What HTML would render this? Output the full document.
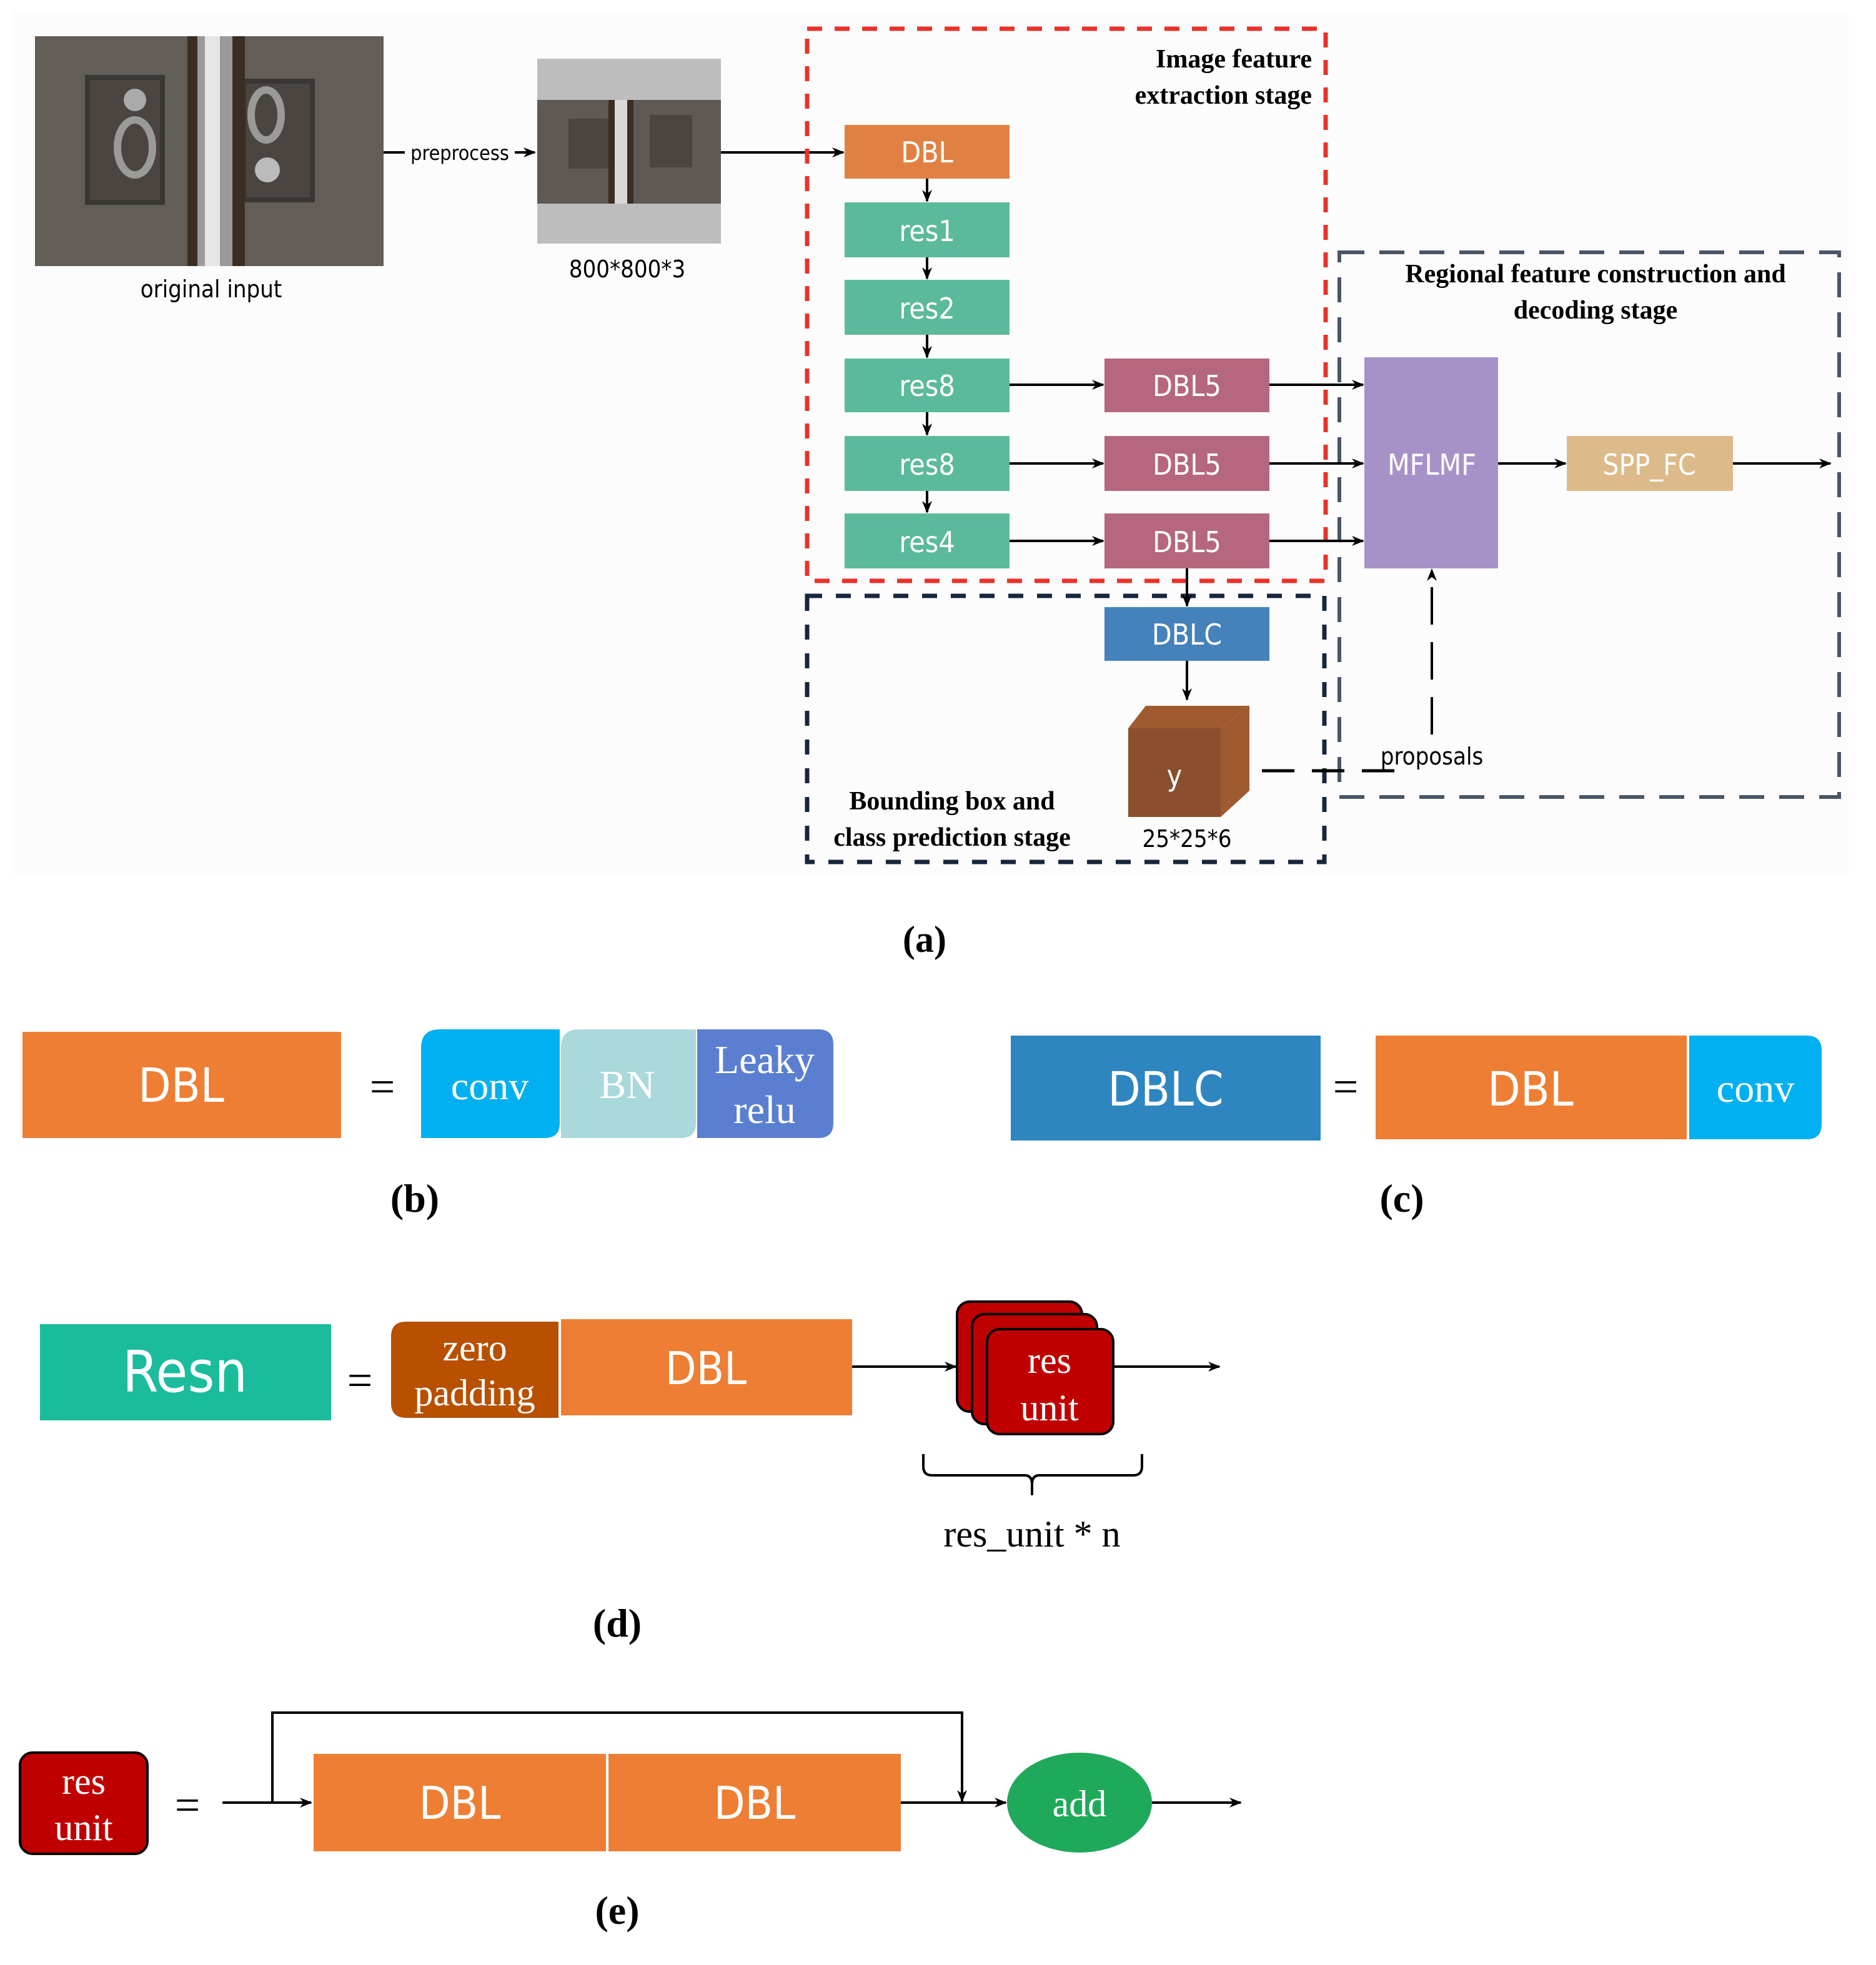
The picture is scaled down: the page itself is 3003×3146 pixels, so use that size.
<!DOCTYPE html>
<html><head><meta charset="utf-8">
<style>
html,body{margin:0;padding:0;background:#fff;}
svg{display:block;}
.s{font-family:"DejaVu Sans Condensed","Liberation Sans",sans-serif;}
.r{font-family:"Liberation Serif",serif;}
</style></head><body>
<svg width="3003" height="3146" viewBox="0 0 1501.5 1573" xmlns="http://www.w3.org/2000/svg">
<defs>
<marker id="a" markerWidth="10" markerHeight="10" refX="9" refY="5" orient="auto" markerUnits="userSpaceOnUse"><path d="M0,1 L10,5 L0,9 L3,5 z" fill="#000"/></marker>
</defs>
<rect width="1501.5" height="1573" fill="#fff"/>
<rect x="10" y="10" width="1470" height="690" fill="#fcfcfc"/>

<!-- original photo -->
<rect x="28" y="29" width="279" height="184" fill="#5a5550"/>
<rect x="28" y="29" width="279" height="184" fill="#6b665f" opacity="0.5"/>
<rect x="70" y="62" width="60" height="100" fill="#4a4540" stroke="#3a3633" stroke-width="4"/>
<rect x="195" y="65" width="55" height="95" fill="#4a4540" stroke="#3a3633" stroke-width="4"/>
<ellipse cx="108" cy="118" rx="14" ry="22" fill="none" stroke="#9a9a96" stroke-width="6"/>
<ellipse cx="213" cy="92" rx="12" ry="20" fill="none" stroke="#9a9a96" stroke-width="6"/>
<circle cx="108" cy="80" r="9" fill="#aaa"/><circle cx="214" cy="136" r="10" fill="#bbb"/>
<rect x="150" y="29" width="46" height="184" fill="#3b2d22"/>
<rect x="158" y="29" width="28" height="184" fill="#9a9a9a"/>
<rect x="164" y="29" width="12" height="184" fill="#e6e6e6"/>
<text x="169" y="238" class="s" font-size="19" text-anchor="middle">original input</text>

<line x1="307" y1="122" x2="428" y2="122" stroke="#000" stroke-width="2" marker-end="url(#a)"/>
<rect x="324" y="112" width="88" height="20" fill="#fcfcfc"/>
<text x="368" y="128" class="s" font-size="16" text-anchor="middle">preprocess</text>

<!-- preprocessed -->
<rect x="430" y="47" width="147" height="148" fill="#bdbdbd"/>
<rect x="430" y="80" width="147" height="83" fill="#5e5954"/>
<rect x="455" y="95" width="40" height="40" fill="#4a4540"/>
<rect x="520" y="92" width="34" height="42" fill="#4a4540"/>
<rect x="487" y="80" width="20" height="83" fill="#3b2d22"/>
<rect x="492" y="80" width="10" height="83" fill="#d8d8d8"/>
<text x="502" y="222" class="s" font-size="19" text-anchor="middle">800*800*3</text>

<line x1="577" y1="122" x2="675" y2="122" stroke="#000" stroke-width="2" marker-end="url(#a)"/>

<!-- boxes -->
<rect x="1072" y="202" width="400" height="436" fill="none" stroke="#4a5568" stroke-width="3" stroke-dasharray="20,12"/>
<rect x="646" y="477" width="414" height="213" fill="none" stroke="#17263c" stroke-width="3.5" stroke-dasharray="12,11"/>
<rect x="646" y="23" width="415" height="442" fill="none" stroke="#e8322a" stroke-width="3.5" stroke-dasharray="12,10"/>

<text x="1050" y="54" class="r" font-size="21" font-weight="bold" text-anchor="end">Image feature</text>
<text x="1050" y="83" class="r" font-size="21" font-weight="bold" text-anchor="end">extraction stage</text>
<text x="1277" y="226" class="r" font-size="21" font-weight="bold" text-anchor="middle">Regional feature construction and</text>
<text x="1277" y="255" class="r" font-size="21" font-weight="bold" text-anchor="middle">decoding stage</text>
<text x="762" y="648" class="r" font-size="21" font-weight="bold" text-anchor="middle">Bounding box and</text>
<text x="762" y="677" class="r" font-size="21" font-weight="bold" text-anchor="middle">class prediction stage</text>

<g class="s" font-size="23" fill="#fff" text-anchor="middle">
<rect x="676" y="100" width="132" height="43" fill="#e08143"/><text x="742" y="130">DBL</text>
<rect x="676" y="162" width="132" height="44" fill="#5bba9b"/><text x="742" y="193">res1</text>
<rect x="676" y="224" width="132" height="44" fill="#5bba9b"/><text x="742" y="255">res2</text>
<rect x="676" y="287" width="132" height="43" fill="#5bba9b"/><text x="742" y="317">res8</text>
<rect x="676" y="349" width="132" height="44" fill="#5bba9b"/><text x="742" y="380">res8</text>
<rect x="676" y="411" width="132" height="44" fill="#5bba9b"/><text x="742" y="442">res4</text>
<rect x="884" y="287" width="132" height="43" fill="#b5677e"/><text x="950" y="317">DBL5</text>
<rect x="884" y="349" width="132" height="44" fill="#b5677e"/><text x="950" y="380">DBL5</text>
<rect x="884" y="411" width="132" height="44" fill="#b5677e"/><text x="950" y="442">DBL5</text>
<rect x="884" y="486" width="132" height="43" fill="#4581ba"/><text x="950" y="516">DBLC</text>
<rect x="1092" y="286" width="107" height="169" fill="#a792c8"/><text x="1146" y="380">MFLMF</text>
<rect x="1254" y="349" width="133" height="44" fill="#ddba8a"/><text x="1320" y="380">SPP_FC</text>
</g>

<g stroke="#000" stroke-width="2" fill="none" marker-end="url(#a)">
<line x1="742" y1="143" x2="742" y2="161"/>
<line x1="742" y1="206" x2="742" y2="223"/>
<line x1="742" y1="268" x2="742" y2="286"/>
<line x1="742" y1="330" x2="742" y2="348"/>
<line x1="742" y1="393" x2="742" y2="410"/>
<line x1="808" y1="308" x2="883" y2="308"/>
<line x1="808" y1="371" x2="883" y2="371"/>
<line x1="808" y1="433" x2="883" y2="433"/>
<line x1="1016" y1="308" x2="1091" y2="308"/>
<line x1="1016" y1="371" x2="1091" y2="371"/>
<line x1="1016" y1="433" x2="1091" y2="433"/>
<line x1="1199" y1="371" x2="1253" y2="371"/>
<line x1="1387" y1="371" x2="1465" y2="371"/>
<line x1="950" y1="455" x2="950" y2="485"/>
<line x1="950" y1="529" x2="950" y2="560"/>
<line x1="1146" y1="588" x2="1146" y2="456" stroke-dasharray="30,14"/>
</g>
<line x1="1010" y1="617" x2="1120" y2="617" stroke="#000" stroke-width="2.5" stroke-dasharray="26,14"/>
<text x="1146" y="612" class="s" font-size="19" text-anchor="middle">proposals</text>

<!-- cube -->
<polygon points="903,583 917,565 1000,565 977,583" fill="#a05a30"/>
<polygon points="977,583 1000,565 1000,633 977,654" fill="#a05a30"/>
<rect x="903" y="583" width="74" height="71" fill="#8b4f30"/>
<text x="940" y="629" class="s" font-size="23" fill="#fff" text-anchor="middle">y</text>
<text x="950" y="678" class="s" font-size="19" text-anchor="middle">25*25*6</text>

<text x="740" y="762" class="r" font-size="30" font-weight="bold" text-anchor="middle">(a)</text>

<!-- (b) -->
<rect x="18" y="826" width="255" height="85" fill="#ee7e33"/>
<text x="145" y="882" class="s" font-size="38" fill="#fff" text-anchor="middle">DBL</text>
<text x="306" y="882" class="r" font-size="36" text-anchor="middle">=</text>
<path d="M352,824 H448 V899 Q448,911 436,911 H337 V839 Q337,824 352,824Z" fill="#00b0f0"/>
<path d="M463,824 H557 V899 Q557,911 545,911 H449 V839 Q449,824 463,824Z" fill="#a9d9da"/>
<path d="M558,824 H655 Q667,824 667,836 V899 Q667,911 655,911 H558Z" fill="#5b7fd0"/>
<g class="r" font-size="32" fill="#fff" text-anchor="middle">
<text x="392" y="880">conv</text><text x="502" y="879">BN</text>
<text x="612" y="859">Leaky</text><text x="612" y="899">relu</text></g>
<text x="332" y="970" class="r" font-size="32" font-weight="bold" text-anchor="middle">(b)</text>

<!-- (c) -->
<rect x="809" y="829" width="248" height="84" fill="#2e86c1"/>
<text x="933" y="885" class="s" font-size="38" fill="#fff" text-anchor="middle">DBLC</text>
<text x="1077" y="882" class="r" font-size="36" text-anchor="middle">=</text>
<rect x="1101" y="829" width="249" height="83" fill="#ee7e33"/>
<text x="1225" y="885" class="s" font-size="38" fill="#fff" text-anchor="middle">DBL</text>
<path d="M1352,829 H1446 Q1458,829 1458,841 V900 Q1458,912 1446,912 H1352Z" fill="#00b0f0"/>
<text x="1405" y="882" class="r" font-size="32" fill="#fff" text-anchor="middle">conv</text>
<text x="1122" y="970" class="r" font-size="32" font-weight="bold" text-anchor="middle">(c)</text>

<!-- (d) -->
<rect x="32" y="1060" width="233" height="77" fill="#1abc9c"/>
<text x="148" y="1114" class="s" font-size="46" fill="#fff" text-anchor="middle">Resn</text>
<text x="288" y="1117" class="r" font-size="36" text-anchor="middle">=</text>
<path d="M325,1058 H447 V1135 H325 Q313,1135 313,1123 V1070 Q313,1058 325,1058Z" fill="#b85000"/>
<g class="r" font-size="30" fill="#fff" text-anchor="middle"><text x="380" y="1089">zero</text><text x="380" y="1125">padding</text></g>
<rect x="449" y="1056" width="233" height="77" fill="#ee7e33"/>
<text x="565" y="1108" class="s" font-size="36" fill="#fff" text-anchor="middle">DBL</text>
<line x1="682" y1="1094" x2="765" y2="1094" stroke="#000" stroke-width="2" marker-end="url(#a)"/>
<rect x="766" y="1042" width="100" height="88" rx="10" fill="#c00000" stroke="#000" stroke-width="2"/>
<rect x="778" y="1052" width="100" height="88" rx="10" fill="#c00000" stroke="#000" stroke-width="2"/>
<rect x="790" y="1064" width="101" height="84" rx="10" fill="#c00000" stroke="#000" stroke-width="2"/>
<g class="r" font-size="30" fill="#fff" text-anchor="middle"><text x="840" y="1099">res</text><text x="840" y="1137">unit</text></g>
<line x1="891" y1="1094" x2="976" y2="1094" stroke="#000" stroke-width="2" marker-end="url(#a)"/>
<path d="M739,1164 V1174 Q739,1181 746,1181 H820 Q826,1181 826,1188 V1197 M826,1188 Q826,1181 832,1181 H907 Q914,1181 914,1174 V1164" fill="none" stroke="#000" stroke-width="2"/>
<text x="826" y="1238" class="r" font-size="30" text-anchor="middle">res_unit * n</text>
<text x="494" y="1310" class="r" font-size="32" font-weight="bold" text-anchor="middle">(d)</text>

<!-- (e) -->
<rect x="16" y="1403" width="102" height="81" rx="10" fill="#c00000" stroke="#000" stroke-width="2"/>
<g class="r" font-size="30" fill="#fff" text-anchor="middle"><text x="67" y="1436">res</text><text x="67" y="1473">unit</text></g>
<text x="150" y="1457" class="r" font-size="36" text-anchor="middle">=</text>
<line x1="178" y1="1443" x2="249" y2="1443" stroke="#000" stroke-width="2" marker-end="url(#a)"/>
<path d="M218,1443 V1371 H770 V1442" fill="none" stroke="#000" stroke-width="2" marker-end="url(#a)"/>
<rect x="251" y="1404" width="234" height="78" fill="#ee7e33"/>
<rect x="487" y="1404" width="234" height="78" fill="#ee7e33"/>
<g class="s" font-size="36" fill="#fff" text-anchor="middle"><text x="368" y="1456">DBL</text><text x="604" y="1456">DBL</text></g>
<line x1="721" y1="1443" x2="805" y2="1443" stroke="#000" stroke-width="2" marker-end="url(#a)"/>
<ellipse cx="864" cy="1443" rx="58" ry="40" fill="#1fa95a"/>
<text x="864" y="1454" class="r" font-size="30" fill="#fff" text-anchor="middle">add</text>
<line x1="922" y1="1443" x2="993" y2="1443" stroke="#000" stroke-width="2" marker-end="url(#a)"/>
<text x="494" y="1540" class="r" font-size="32" font-weight="bold" text-anchor="middle">(e)</text>
</svg>
</body></html>
